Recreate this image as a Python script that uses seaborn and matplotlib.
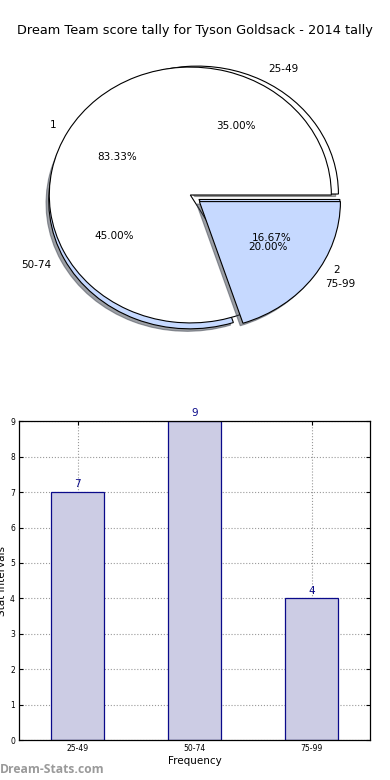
import numpy as np
import pandas as pd
import matplotlib
matplotlib.use("Agg")
import matplotlib.pyplot as plt
import matplotlib.patches as mpatches
import seaborn as sns

# data
intervals = ["25-49", "50-74", "75-99"]
interval_counts = [7, 9, 4]
split_labels = ["1", "2"]
split_counts = [10, 2]

player = "Tyson Goldsack"
season = "2014"

pale_blue = "#c6d9ff"
bar_fill = "#ccccE4"
navy = "#0a0a8a"

plt.rcParams["font.family"] = ["DejaVu Sans"]

fig = plt.figure(figsize=(3.9, 7.8), dpi=100)

#########################################################################
# pie part - the interval pie sits under the 1/2 pie, its last slice on top
shadow_opts = {"ox": -0.014, "oy": -0.014}
ax1 = fig.add_axes([0.036, 0.545, 0.904, 0.41])
wedges_b, _, _ = ax1.pie(interval_counts, labels=intervals,
                         colors=["white", pale_blue, pale_blue],
                         explode=(0.04, 0.04, 0.04), center=(0.032, -0.028),
                         autopct="%1.2f%%", shadow=shadow_opts,
                         wedgeprops={"linewidth": 0.8, "edgecolor": "black"},
                         textprops={"fontsize": 7.5})
ax1.pie(split_counts, labels=split_labels, colors=["white", pale_blue],
        explode=(0, 0.07), autopct="%1.2f%%", shadow=False,
        wedgeprops={"linewidth": 0.8, "edgecolor": "black"},
        textprops={"fontsize": 7.5})

top_wedge = wedges_b[-1]
top_wedge.set_zorder(2.5)
for p in ax1.patches:
    if isinstance(p, mpatches.Shadow) and p.patch is top_wedge:
        p.set_zorder(2.4)

ax1.set_aspect("auto")
ax1.set_xlim(-1.25, 1.25)
ax1.set_ylim(-1.25, 1.25)
fig.suptitle("Dream Team score tally for %s - %s tally" % (player, season),
             fontsize=9.3, x=0.5, y=0.9615, va="center")

#########################################################################
# bar part
df = pd.DataFrame({"interval": intervals, "count": interval_counts})
ax2 = fig.add_axes([0.049, 0.051, 0.9, 0.409])
sns.barplot(data=df, x="interval", y="count", ax=ax2, width=0.45,
            color=bar_fill, saturation=1, edgecolor=navy, linewidth=0.9, zorder=2)
for i, v in enumerate(interval_counts):
    ax2.text(i, v + 0.08, str(v), ha="center", va="bottom", color=navy, fontsize=7.5)

ax2.set_xlim(-0.5, 2.5)
ax2.set_ylim(0, 9)
ax2.set_yticks(range(0, 10))
ax2.grid(True, linestyle=":", color="#999999", linewidth=0.8, zorder=0)
ax2.set_axisbelow(True)
ax2.tick_params(labelsize=5.5, direction="in", top=True, right=True, length=3, pad=3)
ax2.set_xlabel("Frequency", fontsize=7.5, labelpad=2)
ax2.set_ylabel("Stat Intervals", fontsize=7.5, labelpad=2)
for s in ax2.spines.values():
    s.set_linewidth(0.9)

fig.text(0.0, 0.005, "Dream-Stats.com", color="#9a9a9a", fontsize=8.7,
         family=["Open Sans", "DejaVu Sans"], fontweight="bold",
         ha="left", va="bottom")

fig.savefig("out.png", dpi=100)
